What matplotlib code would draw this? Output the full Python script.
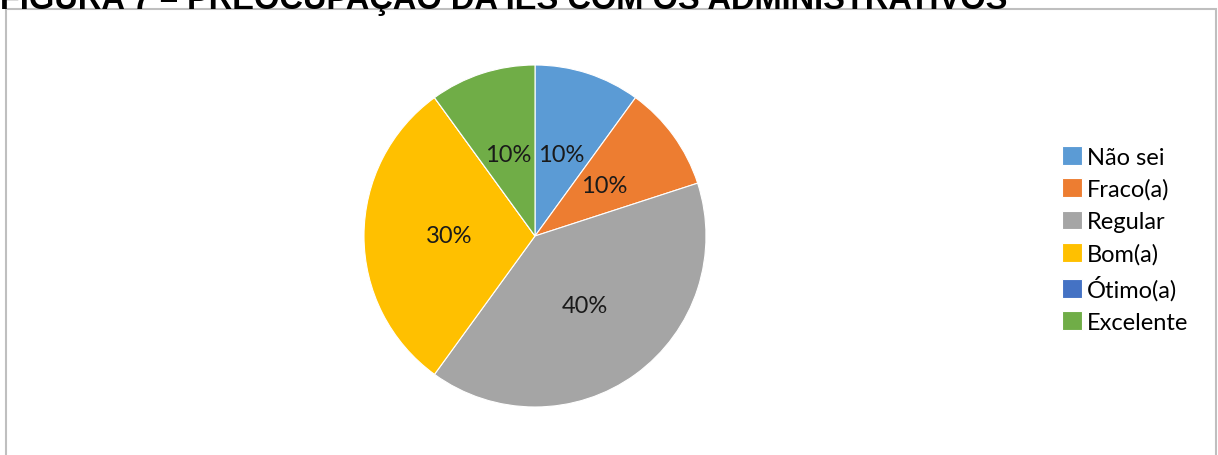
import matplotlib.pyplot as plt
from matplotlib.patches import Rectangle

categories = ['Não sei', 'Fraco(a)', 'Regular', 'Bom(a)', 'Ótimo(a)', 'Excelente']
values = [10, 10, 40, 30, 0, 10]
colors = ['#5b9bd5', '#ed7d31', '#a5a5a5', '#ffc000', '#4472c4', '#70ad47']
title = 'FIGURA 7 – PREOCUPAÇÃO DA IES COM OS ADMINISTRATIVOS'

W, H = 1218, 456
fig = plt.figure(figsize=(W / 100, H / 100), dpi=100)
plt.rcParams['font.family'] = ['Lato', 'DejaVu Sans']

# chart frame
fig.patches.append(Rectangle((6 / W, -0.1), 1210 / W, (H - 10) / H + 0.1,
                             transform=fig.transFigure, fill=False,
                             edgecolor='#bfbfbf', linewidth=1.5))

# title (cut off at the top in the original)
fig.text(0, 1 + 3 / H, title, fontsize=23.5, fontweight='bold',
         family='Liberation Sans', ha='left', va='center')

cx, cy, r = 535, 237, 171
ax = fig.add_axes([(cx - r) / W, (H - cy - r) / H, 2 * r / W, 2 * r / H])


def fmt(p):
    return '%.0f%%' % p if p > 0 else ''


wedges, texts, autotexts = ax.pie(values, colors=colors, startangle=90,
                                  counterclock=False, autopct=fmt,
                                  pctdistance=0.5,
                                  wedgeprops=dict(edgecolor='white', linewidth=0.8),
                                  textprops=dict(fontsize=17, color='#1a1a1a'))
ax.set_xlim(-1, 1)
ax.set_ylim(-1, 1)
ax.set_aspect('equal')

fig.legend(wedges, categories, loc='upper left',
           bbox_to_anchor=(1062 / W, 1 - 147 / H), frameon=False,
           fontsize=17, handlelength=0.85, handleheight=0.85,
           handletextpad=0.2, labelspacing=0.455, borderpad=0,
           borderaxespad=0)

fig.savefig('out.png', dpi=100)
